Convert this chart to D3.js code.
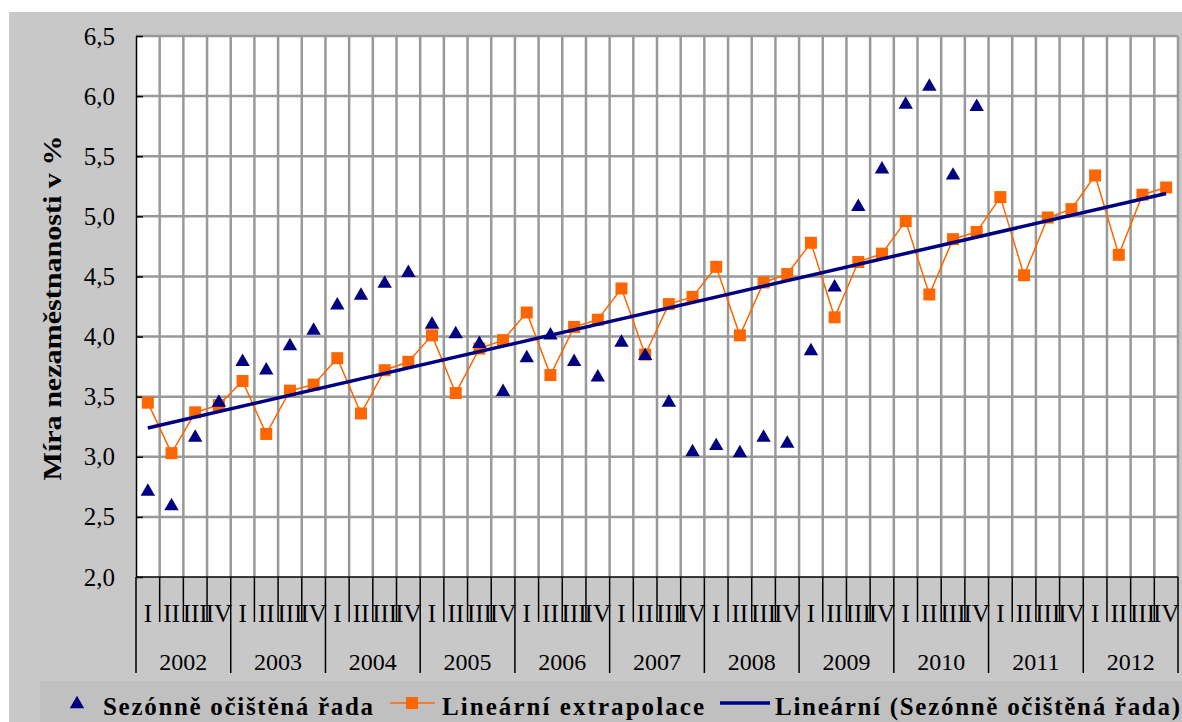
<!DOCTYPE html>
<html>
<head>
<meta charset="utf-8">
<script src="https://cdn.jsdelivr.net/npm/d3@7"></script>
<style>
  html, body { margin: 0; padding: 0; background: #ffffff; }
  svg { display: block; }
</style>
</head>
<body>
<svg id="chart" width="1182" height="722"></svg>
<script>
// ---- data ----
const years = ["2002","2003","2004","2005","2006","2007","2008","2009","2010","2011","2012"];
const quarters = ["I","II","III","IV"];
const yTicks = [2.0, 2.5, 3.0, 3.5, 4.0, 4.5, 5.0, 5.5, 6.0, 6.5];
// Sezónně očištěná řada (seasonally adjusted), 2002Q1 .. 2010Q4
const seasonal = [2.71, 2.59, 3.16, 3.45, 3.79, 3.72, 3.92, 4.05,
                  4.26, 4.34, 4.44, 4.53, 4.10, 4.02, 3.94, 3.54,
                  3.82, 4.01, 3.79, 3.66, 3.95, 3.84, 3.45, 3.04,
                  3.09, 3.03, 3.16, 3.11, 3.88, 4.41, 5.08, 5.39,
                  5.93, 6.08, 5.34, 5.91];
// Lineární extrapolace, 2002Q1 .. 2012Q4
const extrap = [3.45, 3.03, 3.37, 3.43, 3.63, 3.19, 3.55, 3.60,
                3.82, 3.36, 3.72, 3.79, 4.01, 3.53, 3.90, 3.97,
                4.20, 3.68, 4.08, 4.14, 4.40, 3.85, 4.27, 4.33,
                4.58, 4.01, 4.45, 4.52, 4.78, 4.16, 4.62, 4.69,
                4.96, 4.35, 4.81, 4.87, 5.16, 4.51, 4.99, 5.06,
                5.34, 4.68, 5.18, 5.24];
// Lineární (Sezónně očištěná řada) trend: value at first and last period
const trendIdx = [0, 43];
const trendVal = [3.24, 5.19];
const legendLabels = ["Sezónně očištěná řada", "Lineární extrapolace", "Lineární (Sezónně očištěná řada)"];
const yTitle = "Míra nezaměstnanosti v %";

// ---- layout ----
const svg = d3.select("#chart");
const L = 136, R = 1178, T = 36, B = 577;
const serif = "'Liberation Serif', 'Times New Roman', serif";

const periods = d3.range(years.length * quarters.length);
const x = d3.scaleBand().domain(periods).range([L, R]);
const y = d3.scaleLinear().domain([2, 6.5]).range([B, T]);
const cx = i => x(i) + x.bandwidth() / 2;

// backgrounds
svg.append("rect").attr("x", 9).attr("y", 12).attr("width", 1173).attr("height", 710).attr("fill", "#c8c8c8");
svg.append("rect").attr("x", 40).attr("y", 681).attr("width", 1142).attr("height", 41).attr("fill", "#c0c0c0");
svg.append("rect").attr("x", L).attr("y", T).attr("width", R - L).attr("height", B - T).attr("fill", "#ffffff");

// gridlines
const grid = svg.append("g").attr("stroke", "#999999").attr("stroke-width", 2.5);
grid.selectAll("line.h").data(yTicks.filter(d => d > 2)).join("line")
  .attr("x1", L).attr("x2", R).attr("y1", d => y(d)).attr("y2", d => y(d));
grid.selectAll("line.v").data(periods.map(i => i + 1)).join("line")
  .attr("x1", i => i < periods.length ? x(i) : R).attr("x2", i => i < periods.length ? x(i) : R)
  .attr("y1", T).attr("y2", B);

// y axis
const yAxis = d3.axisLeft(y).tickValues(yTicks)
  .tickFormat(d => d.toFixed(1).replace(".", ","))
  .tickSizeInner(-7).tickSizeOuter(0).tickPadding(21);
const ya = svg.append("g").attr("transform", `translate(${L},0)`).call(yAxis);
ya.select(".domain").attr("stroke", "#000").attr("stroke-width", 1.5);
ya.selectAll(".tick line").attr("stroke", "#000").attr("stroke-width", 1.5);
ya.selectAll(".tick text").attr("font-family", serif).attr("font-size", 25).attr("fill", "#000");

// y title
svg.append("text").attr("transform", "translate(61,308) rotate(-90)")
  .attr("text-anchor", "middle").attr("font-family", serif).attr("font-weight", "bold")
  .attr("font-size", 26).attr("textLength", 345).attr("lengthAdjust", "spacingAndGlyphs")
  .attr("fill", "#000").text(yTitle);

// x axis (category table)
const xa = svg.append("g");
xa.append("line").attr("x1", L).attr("x2", R).attr("y1", B).attr("y2", B).attr("stroke", "#000").attr("stroke-width", 1.5);
xa.selectAll("line.q").data(periods.filter(i => i % 4 !== 0)).join("line")
  .attr("x1", i => x(i)).attr("x2", i => x(i)).attr("y1", B).attr("y2", 622)
  .attr("stroke", "#000").attr("stroke-width", 1.5);
xa.selectAll("line.yb").data(d3.range(years.length + 1)).join("line")
  .attr("x1", k => k < years.length ? x(k * 4) : R).attr("x2", k => k < years.length ? x(k * 4) : R)
  .attr("y1", B).attr("y2", 673).attr("stroke", "#000").attr("stroke-width", 1.5);
xa.selectAll("text.q").data(periods).join("text")
  .attr("x", i => cx(i)).attr("y", 622).attr("text-anchor", "middle")
  .attr("font-family", serif).attr("font-size", 25).attr("fill", "#000")
  .text(i => quarters[i % 4]);
xa.selectAll("text.yr").data(years).join("text")
  .attr("x", (d, k) => (x(k * 4) + (k * 4 + 4 < periods.length ? x(k * 4 + 4) : R)) / 2)
  .attr("y", 670).attr("text-anchor", "middle")
  .attr("font-family", serif).attr("font-size", 24).attr("fill", "#000")
  .text(d => d);

const orange = "#ff6600", navy = "#000080";

// orange line + squares
const line = d3.line().x((d, i) => cx(i)).y(d => y(d));
svg.append("path").attr("d", line(extrap)).attr("fill", "none").attr("stroke", orange).attr("stroke-width", 1.5);
svg.selectAll("rect.sq").data(extrap).join("rect")
  .attr("x", (d, i) => cx(i) - 6).attr("y", d => y(d) - 6)
  .attr("width", 12).attr("height", 12).attr("fill", orange);

// triangles
const tri = d3.symbol().type(d3.symbolTriangle).size(90);
svg.selectAll("path.tri").data(seasonal).join("path")
  .attr("transform", (d, i) => `translate(${cx(i)},${y(d)})`)
  .attr("d", tri).attr("fill", navy);

// trend
svg.append("line")
  .attr("x1", cx(trendIdx[0])).attr("y1", y(trendVal[0]))
  .attr("x2", cx(trendIdx[1])).attr("y2", y(trendVal[1]))
  .attr("stroke", navy).attr("stroke-width", 3.5);

// legend
const lg = svg.append("g").attr("font-family", serif).attr("font-weight", "bold").attr("font-size", 25).attr("fill", "#000");
lg.append("path").attr("transform", "translate(77,704)").attr("d", tri).attr("fill", navy);
lg.append("text").attr("x", 103).attr("y", 715).attr("textLength", 270).text(legendLabels[0]);
lg.append("line").attr("x1", 390).attr("x2", 435).attr("y1", 703).attr("y2", 703).attr("stroke", orange).attr("stroke-width", 1.5);
lg.append("rect").attr("x", 406).attr("y", 697).attr("width", 12).attr("height", 12).attr("fill", orange);
lg.append("text").attr("x", 442).attr("y", 715).attr("textLength", 262).text(legendLabels[1]);
lg.append("line").attr("x1", 720).attr("x2", 770).attr("y1", 703).attr("y2", 703).attr("stroke", navy).attr("stroke-width", 3.5);
lg.append("text").attr("x", 775).attr("y", 715).attr("textLength", 405).text(legendLabels[2]);
</script>
</body>
</html>
